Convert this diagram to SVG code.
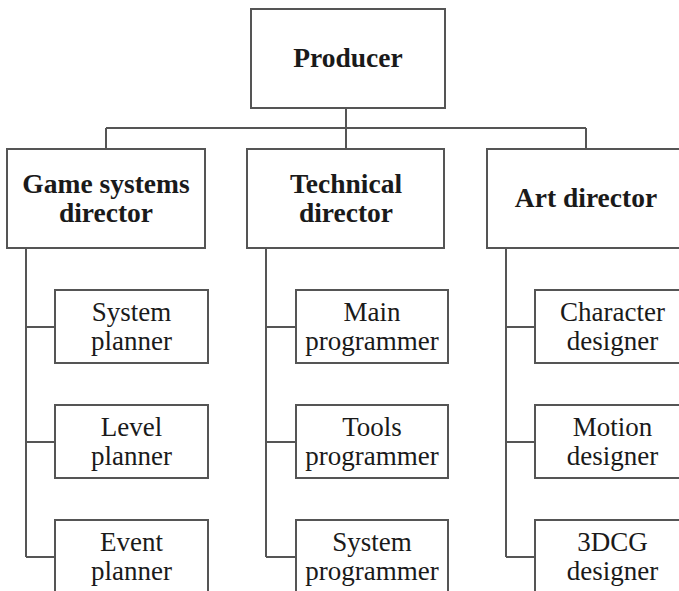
<svg xmlns="http://www.w3.org/2000/svg" width="679" height="591" viewBox="0 0 679 591">
<style>
.box{fill:#fff;stroke:#555;stroke-width:2}
.ln{fill:none;stroke:#555;stroke-width:2}
.h{font-family:"Liberation Serif","Times New Roman",serif;font-weight:bold;font-size:27.5px;fill:#1a1a1a;text-anchor:middle}
.t{font-family:"Liberation Serif","Times New Roman",serif;font-size:27px;fill:#1a1a1a;text-anchor:middle}
</style>
<rect width="679" height="591" fill="#fff"/>
<g id="connectors">
<path class="ln" d="M346 108V149M106 128H586M106 128V149M586 128V149"/>
<path class="ln" d="M26 248V557M26 327H55M26 442H55M26 557H55"/>
<path class="ln" d="M266 248V557M266 327H296M266 442H296M266 557H296"/>
<path class="ln" d="M506 248V557M506 327H535M506 442H535M506 557H535"/>
</g>
<g id="producer"><rect class="box" x="251" y="9" width="194" height="99"/><text class="h" x="348" y="67">Producer</text></g>
<g id="game-systems-director"><rect class="box" x="7" y="149" width="198" height="99"/><text class="h" x="106" y="193">Game systems</text><text class="h" x="106" y="222">director</text></g>
<g id="technical-director"><rect class="box" x="247" y="149" width="197" height="99"/><text class="h" x="346" y="193">Technical</text><text class="h" x="346" y="222">director</text></g>
<g id="art-director"><rect class="box" x="487" y="149" width="200" height="99"/><text class="h" x="586" y="207">Art director</text></g>
<g id="system-planner"><rect class="box" x="55" y="290" width="153" height="73"/><text class="t" x="131.5" y="321">System</text><text class="t" x="131.5" y="350">planner</text></g>
<g id="level-planner"><rect class="box" x="55" y="405" width="153" height="73"/><text class="t" x="131.5" y="436">Level</text><text class="t" x="131.5" y="465">planner</text></g>
<g id="event-planner"><rect class="box" x="55" y="520" width="153" height="80"/><text class="t" x="131.5" y="551">Event</text><text class="t" x="131.5" y="580">planner</text></g>
<g id="main-programmer"><rect class="box" x="296" y="290" width="152" height="73"/><text class="t" x="372" y="321">Main</text><text class="t" x="372" y="350">programmer</text></g>
<g id="tools-programmer"><rect class="box" x="296" y="405" width="152" height="73"/><text class="t" x="372" y="436">Tools</text><text class="t" x="372" y="465">programmer</text></g>
<g id="system-programmer"><rect class="box" x="296" y="520" width="152" height="80"/><text class="t" x="372" y="551">System</text><text class="t" x="372" y="580">programmer</text></g>
<g id="character-designer"><rect class="box" x="535" y="290" width="155" height="73"/><text class="t" x="612.5" y="321">Character</text><text class="t" x="612.5" y="350">designer</text></g>
<g id="motion-designer"><rect class="box" x="535" y="405" width="155" height="73"/><text class="t" x="612.5" y="436">Motion</text><text class="t" x="612.5" y="465">designer</text></g>
<g id="3dcg-designer"><rect class="box" x="535" y="520" width="155" height="80"/><text class="t" x="612.5" y="551">3DCG</text><text class="t" x="612.5" y="580">designer</text></g>
</svg>
